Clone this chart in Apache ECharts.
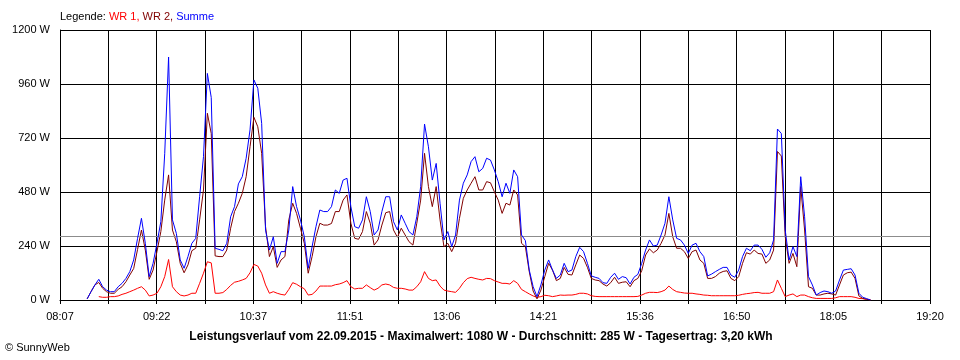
<!DOCTYPE html>
<html>
<head>
<meta charset="utf-8">
<script src="https://cdn.jsdelivr.net/npm/echarts@6/dist/echarts.min.js"></script>
<style>
html,body{margin:0;padding:0;background:#fff;}
#chart{width:960px;height:360px;}
</style>
</head>
<body>
<div id="chart"></div>
<script>
// ---- data ----
const axisStart = '08:07';
const axisEnd = '19:20';
const sampleStart = '08:28';      // first sample
const sampleStepMin = 3;          // minutes between samples
const yTicks = [0, 240, 480, 720, 960, 1200];
const averageW = 285;
const seriesNames = ['WR 1', 'WR 2', 'Summe'];
const titleText = 'Leistungsverlauf vom 22.09.2015 - Maximalwert: 1080 W - Durchschnitt: 285 W - Tagesertrag: 3,20 kWh';
const creditText = '\u00A9 SunnyWeb';

const wr1 = [
  null, null, null, 15, 12, 12, 15, 15, 18, 25, 30, 37, 44, 52, 59, 44, 18, 22, 30, 59, 104, 180, 59, 37, 22, 18, 22, 30, 30, 74, 119, 170, 165,
  30, 30, 33, 47, 65, 79, 83, 89, 96, 121, 158, 151, 119, 67, 30, 37, 30, 25, 22, 47, 77, 70, 59, 50, 22, 25, 40, 62, 62, 62, 62, 68, 71, 77, 86,
  59, 49, 52, 52, 67, 55, 44, 52, 67, 71, 67, 56, 52, 52, 49, 44, 44, 59, 81, 126, 96, 86, 89, 62, 44, 40, 37, 34, 52, 77, 95, 101, 96, 92, 89,
  96, 95, 86, 80, 74, 74, 71, 86, 74, 47, 37, 27, 18, 12, 15, 21, 19, 15, 18, 22, 21, 22, 22, 25, 30, 30, 27, 19, 16, 15, 15, 15, 15, 15, 15,
  15, 15, 15, 15, 16, 22, 30, 34, 34, 33, 37, 44, 62, 47, 37, 34, 31, 30, 30, 27, 25, 22, 21, 19, 19, 19, 19, 19, 19, 19, 21, 25, 28, 30, 33,
  34, 30, 30, 30, 37, 89, 52, 15, 22, 27, 15, 22, 22, 15, 10, 7, 7, 7, 7, 7, 10, 15, 15, 15, 15, 12, 7, 6, 3, 1
];

const wr2 = [
  5, 37, 67, 78, 52, 37, 30, 30, 47, 59, 81, 111, 140, 225, 311, 222, 92, 133, 215, 304, 444, 556, 311, 259, 163, 121, 156, 219, 230, 356, 489, 830, 740,
  196, 193, 193, 222, 319, 393, 430, 474, 548, 681, 812, 770, 652, 326, 193, 237, 145, 178, 193, 356, 430, 385, 319, 252, 119, 193, 281, 341, 333, 333, 340, 393, 393, 444, 467,
  341, 274, 270, 304, 393, 341, 244, 267, 333, 388, 393, 311, 279, 319, 289, 259, 244, 341, 444, 652, 504, 415, 504, 356, 237, 252, 215, 252, 363, 452, 489, 519, 548, 489, 489,
  526, 521, 481, 444, 385, 430, 422, 489, 467, 252, 237, 126, 40, 5, 44, 104, 163, 133, 86, 96, 145, 114, 111, 156, 200, 185, 145, 96, 89, 86, 71, 62, 77, 101, 74,
  79, 81, 59, 86, 96, 130, 200, 227, 210, 222, 252, 289, 385, 281, 230, 230, 215, 185, 215, 222, 178, 163, 96, 96, 104, 119, 127, 130, 96, 86, 104, 163, 210, 204, 222,
  207, 204, 163, 178, 222, 660, 640, 281, 163, 207, 148, 504, 311, 59, 52, 22, 22, 27, 30, 27, 22, 67, 111, 121, 124, 96, 18, 7, 3, 0
];

const summe = [
  5, 37, 67, 92, 59, 44, 37, 37, 59, 74, 96, 126, 178, 274, 363, 252, 104, 163, 252, 348, 650, 1080, 356, 296, 178, 141, 193, 252, 274, 459, 637, 1007, 900,
  230, 225, 219, 252, 370, 415, 516, 548, 630, 756, 978, 941, 785, 311, 222, 281, 163, 215, 215, 311, 504, 415, 356, 281, 141, 237, 326, 400, 393, 393, 415, 489, 474, 533, 541,
  415, 326, 319, 356, 459, 393, 289, 311, 393, 459, 459, 348, 311, 378, 341, 304, 289, 370, 504, 782, 681, 533, 607, 430, 267, 304, 237, 289, 444, 519, 556, 615, 637, 570, 585,
  630, 622, 578, 526, 459, 519, 474, 578, 548, 289, 264, 133, 59, 15, 67, 133, 178, 133, 96, 111, 163, 126, 133, 193, 234, 215, 163, 107, 101, 96, 77, 74, 101, 119, 92,
  104, 99, 71, 101, 114, 163, 222, 267, 240, 244, 289, 341, 459, 356, 274, 267, 244, 207, 244, 252, 215, 193, 107, 115, 126, 136, 145, 145, 111, 101, 133, 193, 230, 219, 244,
  244, 225, 190, 210, 267, 760, 740, 311, 178, 237, 193, 548, 370, 104, 67, 22, 33, 40, 37, 30, 40, 89, 133, 136, 139, 111, 30, 12, 6, 0
];

// ---- build chart ----
function toMin(s) { const p = s.split(':'); return (+p[0]) * 60 + (+p[1]); }
function fmt(m) { m = Math.round(m); const h = Math.floor(m / 60), mm = m % 60; return (h < 10 ? '0' : '') + h + ':' + (mm < 10 ? '0' : '') + mm; }

const t0 = toMin(axisStart);
const span = toMin(axisEnd) - t0;       // minutes shown on x axis
const halfStep = span / 18;             // grid every half label step
const firstOffset = toMin(sampleStart) - t0;

function pairs(arr) {
  return arr.map((v, i) => [firstOffset + i * sampleStepMin, v === null ? '-' : v]);
}

const FONT = 'Arial, "Liberation Sans", sans-serif';
const chart = echarts.init(document.getElementById('chart'), null, { renderer: 'canvas' });

chart.setOption({
  animation: false,
  backgroundColor: '#ffffff',
  grid: { left: 60, right: 30, top: 30, bottom: 60, containLabel: false },
  xAxis: {
    type: 'value',
    min: 0,
    max: span,
    interval: halfStep,
    axisLine: { show: true, lineStyle: { color: '#000', width: 1 } },
    axisTick: { show: true, length: 4, lineStyle: { color: '#000' } },
    axisLabel: {
      show: true, color: '#000', fontFamily: FONT, fontSize: 11, margin: 11,
      showMinLabel: true, showMaxLabel: true,
      formatter: function (v) {
        const k = Math.round(v / halfStep);
        if (k % 2) return '';
        return fmt(t0 + v);
      }
    },
    splitLine: { show: true, lineStyle: { color: '#000', width: 1 } }
  },
  yAxis: {
    type: 'value',
    min: yTicks[0],
    max: yTicks[yTicks.length - 1],
    interval: yTicks[1] - yTicks[0],
    axisLine: { show: true, lineStyle: { color: '#000', width: 1 } },
    axisTick: { show: false },
    axisLabel: {
      color: '#000', fontFamily: FONT, fontSize: 11, margin: 10,
      formatter: function (v) { return String(v) + ' W'; }
    },
    splitLine: { show: true, lineStyle: { color: '#000', width: 1 } }
  },
  series: [
    {
      name: seriesNames[0], type: 'line', data: pairs(wr1), showSymbol: false, symbol: 'none',
      lineStyle: { color: '#ff0000', width: 1 }, itemStyle: { color: '#ff0000' }, z: 3,
      markLine: {
        silent: true, symbol: 'none', label: { show: false },
        lineStyle: { color: '#8c8c8c', width: 1, type: 'solid' },
        data: [{ yAxis: averageW }]
      }
    },
    {
      name: seriesNames[1], type: 'line', data: pairs(wr2), showSymbol: false, symbol: 'none',
      lineStyle: { color: '#800000', width: 1 }, itemStyle: { color: '#800000' }, z: 4
    },
    {
      name: seriesNames[2], type: 'line', data: pairs(summe), showSymbol: false, symbol: 'none',
      lineStyle: { color: '#0000ff', width: 1 }, itemStyle: { color: '#0000ff' }, z: 5
    }
  ],
  graphic: [
    {
      type: 'text', left: 60, top: 11,
      style: {
        text: '{k|Legende: }{a|' + seriesNames[0] + ', }{b|' + seriesNames[1] + ', }{c|' + seriesNames[2] + '}',
        font: '11px ' + FONT,
        rich: {
          k: { fill: '#000', fontSize: 11, fontFamily: FONT },
          a: { fill: '#ff0000', fontSize: 11, fontFamily: FONT },
          b: { fill: '#800000', fontSize: 11, fontFamily: FONT },
          c: { fill: '#0000ff', fontSize: 11, fontFamily: FONT }
        }
      }
    },
    {
      type: 'text', x: 481, y: 337,
      style: { text: titleText, fill: '#000', font: 'bold 12px ' + FONT, textAlign: 'center', textVerticalAlign: 'middle' }
    },
    {
      type: 'text', x: 5, y: 348,
      style: { text: creditText, fill: '#000', font: '11px ' + FONT, textAlign: 'left', textVerticalAlign: 'middle' }
    }
  ]
});
</script>
</body>
</html>
